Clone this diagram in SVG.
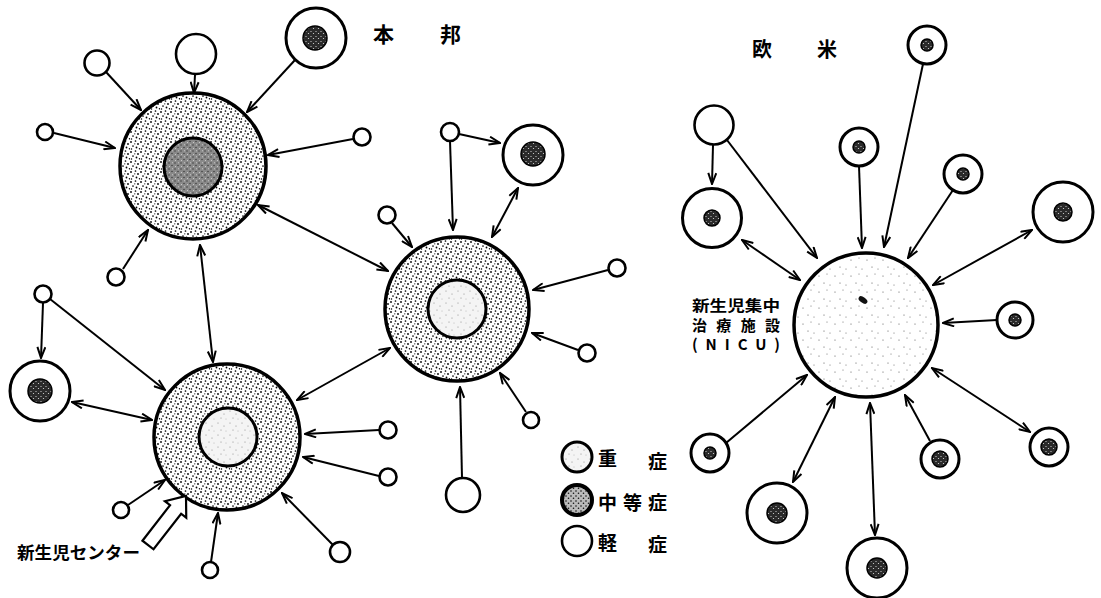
<svg xmlns="http://www.w3.org/2000/svg" width="1101" height="598" viewBox="0 0 1101 598">
<style>
.big{stroke:#000;stroke-width:3.5;fill:url(#stip)}
.ring{stroke:#000;stroke-width:3;fill:#fff}
.lt{stroke:#000;stroke-width:2.6;fill:#fff}
.heavy{stroke:#000;stroke-width:3;fill:url(#light)}
.medin{stroke:#000;stroke-width:3;fill:url(#grey)}
.dk{stroke:#000;stroke-width:1.5;fill:url(#speck)}
.nicu{stroke:#000;stroke-width:3.5;fill:url(#sparse)}
#conn line{stroke:#000;stroke-width:2;fill:none;marker-end:url(#ah)}
#conn line.dbl{marker-start:url(#ah)}
text{font-family:"Noto Sans CJK JP","Noto Sans CJK SC",sans-serif;font-weight:bold;fill:#000}
</style>
<defs>
<pattern id="stip" width="10" height="10" patternUnits="userSpaceOnUse">
<rect width="10" height="10" fill="#fff"/>
<g fill="#000"><circle cx="1" cy="2" r="0.9"/><circle cx="5.5" cy="1" r="0.85"/><circle cx="8" cy="4" r="0.9"/><circle cx="3" cy="6" r="0.85"/><circle cx="6.5" cy="7.5" r="0.9"/><circle cx="1.5" cy="9" r="0.75"/><circle cx="9.5" cy="8.8" r="0.75"/><circle cx="4.8" cy="3.8" r="0.6"/></g>
</pattern>
<pattern id="light" width="12" height="12" patternUnits="userSpaceOnUse">
<rect width="12" height="12" fill="#f4f4f4"/>
<g fill="#777"><circle cx="2" cy="3" r="0.5"/><circle cx="8" cy="6" r="0.5"/><circle cx="5" cy="10" r="0.5"/><circle cx="10" cy="11" r="0.4"/></g>
</pattern>
<pattern id="grey" width="6" height="6" patternUnits="userSpaceOnUse">
<rect width="6" height="6" fill="#8a8a8a"/>
<g fill="#333"><circle cx="1" cy="1" r="0.7"/><circle cx="4" cy="3.5" r="0.7"/></g>
<g fill="#ddd"><circle cx="4.5" cy="0.8" r="0.5"/><circle cx="1.5" cy="4.5" r="0.5"/></g>
</pattern>
<pattern id="lgmed" width="5" height="5" patternUnits="userSpaceOnUse">
<rect width="5" height="5" fill="#bbb"/>
<g fill="#111"><circle cx="1" cy="1" r="0.8"/><circle cx="3.5" cy="3.2" r="0.8"/></g>
</pattern>
<pattern id="speck" width="5" height="5" patternUnits="userSpaceOnUse">
<rect width="5" height="5" fill="#2a2a2a"/>
<g fill="#ddd"><circle cx="1" cy="1.5" r="0.6"/><circle cx="3.5" cy="3.5" r="0.6"/></g>
</pattern>
<pattern id="sparse" width="16" height="16" patternUnits="userSpaceOnUse">
<rect width="16" height="16" fill="#fff"/>
<g fill="#555"><circle cx="3" cy="4" r="0.6"/><circle cx="11" cy="2" r="0.5"/><circle cx="8" cy="11" r="0.6"/><circle cx="14" cy="13" r="0.5"/></g>
</pattern>
<marker id="ah" viewBox="0 0 13 10" refX="12" refY="5" markerWidth="13" markerHeight="10" markerUnits="userSpaceOnUse" orient="auto-start-reverse">
<path d="M1,1 L12,5 L1,9" fill="none" stroke="#000" stroke-width="2"/>
</marker>
</defs>
<rect width="1101" height="598" fill="#fff"/>

<g id="conn">
<line x1="106" y1="72" x2="141" y2="110"/>
<line x1="195" y1="75" x2="194" y2="93"/>
<line x1="295" y1="60" x2="247" y2="112"/>
<line x1="54" y1="133" x2="115" y2="148"/>
<line x1="353" y1="139" x2="268" y2="155"/>
<line x1="123" y1="269" x2="148" y2="230"/>
<line class="dbl" x1="258" y1="205" x2="388" y2="271"/>
<line class="dbl" x1="200" y1="245" x2="213" y2="362"/>
<line x1="450" y1="141" x2="453" y2="230"/>
<line x1="459" y1="134" x2="500" y2="143"/>
<line class="dbl" x1="492" y1="237" x2="518" y2="188"/>
<line x1="392" y1="223" x2="412" y2="247"/>
<line x1="608" y1="270" x2="533" y2="290"/>
<line x1="578" y1="350" x2="532" y2="333"/>
<line x1="462" y1="478" x2="460" y2="387"/>
<line x1="526" y1="412" x2="500" y2="373"/>
<line x1="43" y1="303" x2="41" y2="358"/>
<line x1="50" y1="299" x2="165" y2="390"/>
<line class="dbl" x1="72" y1="402" x2="152" y2="420"/>
<line class="dbl" x1="297" y1="400" x2="390" y2="348"/>
<line x1="379" y1="430" x2="305" y2="434"/>
<line x1="379" y1="476" x2="303" y2="457"/>
<line x1="333" y1="545" x2="282" y2="493"/>
<line x1="211" y1="562" x2="218" y2="513"/>
<line x1="128" y1="505" x2="165" y2="480"/>
<line x1="713" y1="145" x2="712" y2="184"/>
<line x1="727" y1="140" x2="817" y2="258"/>
<line x1="859" y1="166" x2="862" y2="248"/>
<line x1="923" y1="64" x2="884" y2="247"/>
<line x1="953" y1="190" x2="908" y2="258"/>
<line class="dbl" x1="742" y1="240" x2="800" y2="280"/>
<line class="dbl" x1="933" y1="285" x2="1032" y2="230"/>
<line x1="997" y1="320" x2="943" y2="323"/>
<line class="dbl" x1="932" y1="368" x2="1030" y2="432"/>
<line x1="930" y1="441" x2="905" y2="395"/>
<line class="dbl" x1="870" y1="403" x2="875" y2="535"/>
<line class="dbl" x1="835" y1="397" x2="793" y2="482"/>
<line x1="726" y1="443" x2="807" y2="375"/>
</g>

<g id="centerA"><circle class="big" cx="193" cy="166" r="73"/><circle class="medin" cx="193" cy="167" r="29"/></g>
<g id="centerB"><circle class="big" cx="457" cy="309" r="72"/><circle class="heavy" cx="457" cy="309" r="29"/></g>
<g id="centerC"><circle class="big" cx="227" cy="437" r="73"/><circle class="heavy" cx="228" cy="437" r="29"/></g>

<g id="l1"><circle class="lt" cx="97" cy="63" r="12.5"/></g>
<g id="l2"><circle class="lt" cx="196" cy="54" r="20"/></g>
<g id="l3"><circle class="lt" cx="45" cy="132" r="8"/></g>
<g id="l4"><circle class="lt" cx="362" cy="137" r="8.5"/></g>
<g id="l5"><circle class="lt" cx="116" cy="277" r="8.5"/></g>
<g id="l6"><circle class="lt" cx="450" cy="132" r="9"/></g>
<g id="l7"><circle class="lt" cx="387" cy="215" r="8.5"/></g>
<g id="l8"><circle class="lt" cx="617" cy="268" r="8.5"/></g>
<g id="l9"><circle class="lt" cx="587" cy="353" r="8.5"/></g>
<g id="l10"><circle class="lt" cx="463" cy="495" r="17"/></g>
<g id="l11"><circle class="lt" cx="531" cy="420" r="8"/></g>
<g id="l12"><circle class="lt" cx="43" cy="294" r="8.5"/></g>
<g id="l13"><circle class="lt" cx="388" cy="430" r="8.5"/></g>
<g id="l14"><circle class="lt" cx="388" cy="477" r="8.5"/></g>
<g id="l15"><circle class="lt" cx="340" cy="552" r="10"/></g>
<g id="l16"><circle class="lt" cx="210" cy="570" r="8"/></g>
<g id="l17"><circle class="lt" cx="121" cy="510" r="8"/></g>

<g id="m1"><circle class="ring" cx="316" cy="38" r="30"/><circle class="dk" cx="315" cy="38" r="12"/></g>
<g id="m2"><circle class="ring" cx="533" cy="155" r="30"/><circle class="dk" cx="533" cy="154" r="12"/></g>
<g id="m3"><circle class="ring" cx="40" cy="391" r="30"/><circle class="dk" cx="40" cy="391" r="12"/></g>

<g id="centerLabel">
<polygon points="0,-7 45,-7 45,-13.5 62,0 45,13.5 45,7 0,7" fill="#fff" stroke="#000" stroke-width="2.2" transform="translate(148,545) rotate(-52.2)"/>
<text x="17" y="559" font-size="17" textLength="123" lengthAdjust="spacingAndGlyphs">新生児センター</text>
</g>

<g id="titleLeft"><text x="373" y="42" font-size="21">本</text><text x="440" y="42" font-size="21">邦</text></g>

<g id="legend">
<circle class="heavy" cx="577" cy="457" r="15"/>
<circle cx="577" cy="500" r="15" fill="url(#lgmed)" stroke="#000" stroke-width="4"/>
<circle class="lt" cx="577" cy="541" r="15"/>
<text x="598" y="466" font-size="19">重</text><text x="648" y="469" font-size="19">症</text>
<text x="598" y="510" font-size="19">中</text><text x="623" y="510" font-size="19">等</text><text x="648" y="510" font-size="19">症</text>
<text x="598" y="550" font-size="19">軽</text><text x="648" y="552" font-size="19">症</text>
</g>

<g id="nicu">
<circle class="nicu" cx="866" cy="325" r="72"/>
<ellipse cx="863" cy="300" rx="5" ry="2.8" transform="rotate(35 863 300)" fill="#111"/>
<text x="692" y="311" font-size="15" textLength="88" lengthAdjust="spacingAndGlyphs">新生児集中</text>
<text x="692" y="331" font-size="15" textLength="88" lengthAdjust="spacing">治療施設</text>
<text x="692" y="350" font-size="15" textLength="88" lengthAdjust="spacing" font-family="Liberation Serif, serif">(NICU)</text>
</g>

<g id="titleRight"><text x="752" y="57" font-size="20">欧</text><text x="817" y="57" font-size="20">米</text></g>

<g id="r1"><circle class="lt" cx="714" cy="125" r="19.5"/></g>
<g id="rm1"><circle class="ring" cx="927" cy="45" r="19"/><circle class="dk" cx="927" cy="45" r="6"/></g>
<g id="rm2"><circle class="ring" cx="712" cy="218" r="29.5"/><circle class="dk" cx="712" cy="218" r="8"/></g>
<g id="rm3"><circle class="ring" cx="859" cy="147" r="19"/><circle class="dk" cx="859" cy="147" r="6"/></g>
<g id="rm4"><circle class="ring" cx="963" cy="174" r="19"/><circle class="dk" cx="963" cy="174" r="6"/></g>
<g id="rm5"><circle class="ring" cx="1063" cy="212" r="30"/><circle class="dk" cx="1063" cy="212" r="9"/></g>
<g id="rm6"><circle class="ring" cx="1015" cy="320" r="18"/><circle class="dk" cx="1015" cy="320" r="6"/></g>
<g id="rm7"><circle class="ring" cx="1049" cy="447" r="19"/><circle class="dk" cx="1049" cy="447" r="8"/></g>
<g id="rm8"><circle class="ring" cx="940" cy="459" r="19"/><circle class="dk" cx="940" cy="459" r="8"/></g>
<g id="rm9"><circle class="ring" cx="877" cy="568" r="30"/><circle class="dk" cx="877" cy="568" r="10"/></g>
<g id="rm10"><circle class="ring" cx="777" cy="513" r="30"/><circle class="dk" cx="777" cy="513" r="10"/></g>
<g id="rm11"><circle class="ring" cx="710" cy="453" r="19"/><circle class="dk" cx="710" cy="453" r="6"/></g>
</svg>
